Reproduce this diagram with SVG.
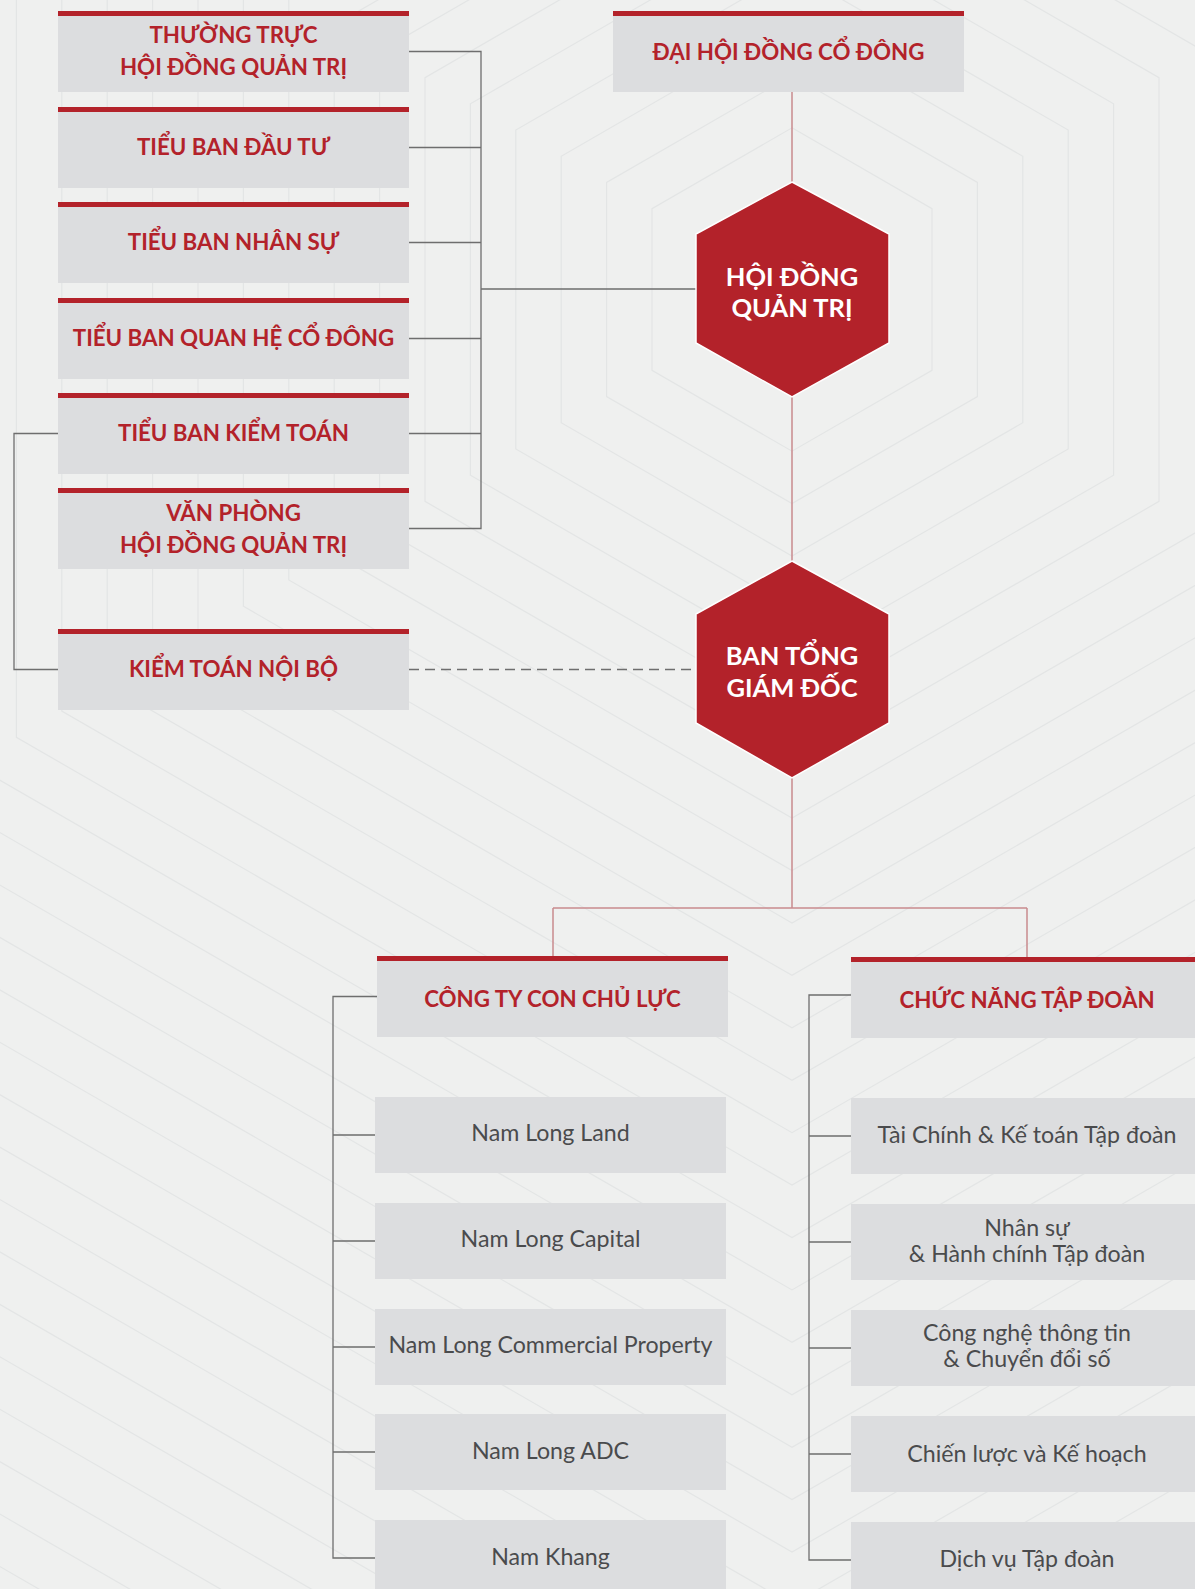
<svg xmlns="http://www.w3.org/2000/svg" xmlns:xlink="http://www.w3.org/1999/xlink" width="1195" height="1589" viewBox="0 0 1195 1589">
<style>
.bg{fill:#eff0ef}
.hx{fill:none;stroke:#e3e5e5;stroke-width:1.2;vector-effect:non-scaling-stroke}
.box{fill:#dcdddf}
.bar{fill:#b3222a}
.hex{fill:#b3222a;stroke:#ffffff;stroke-width:1.5}
.t{font-family:Lato,"Noto Sans","Liberation Sans",sans-serif;text-anchor:middle}
.tr{font-weight:700;font-size:22.3px;fill:#b3222a}
.tw{font-weight:700;font-size:25.5px;fill:#ffffff}
.tg{font-weight:400;font-size:23.2px;fill:#4a4b4d}
.cr{fill:none;stroke:#c98a8e;stroke-width:1.5}
.cg{fill:none;stroke:#6e6e6e;stroke-width:1.3}
.cd{fill:none;stroke:#6e6e6e;stroke-width:1.3;stroke-dasharray:10 6}
</style>
<defs>
<polygon id="uh" class="hx" points="0,-1.1547 1,-0.57735 1,0.57735 0,1.1547 -1,0.57735 -1,-0.57735"/>
</defs>
<rect class="bg" x="0" y="0" width="1195" height="1589"/>
<g id="background">
<use href="#uh" transform="translate(792 289.5) scale(140)"/>
<use href="#uh" transform="translate(792 289.5) scale(185.4)"/>
<use href="#uh" transform="translate(792 289.5) scale(230.8)"/>
<use href="#uh" transform="translate(792 289.5) scale(276.2)"/>
<use href="#uh" transform="translate(792 289.5) scale(321.6)"/>
<use href="#uh" transform="translate(792 289.5) scale(367)"/>
<use href="#uh" transform="translate(792 289.5) scale(412.4)"/>
<use href="#uh" transform="translate(792 289.5) scale(457.8)"/>
<use href="#uh" transform="translate(792 289.5) scale(503.2)"/>
<use href="#uh" transform="translate(792 289.5) scale(548.6)"/>
<use href="#uh" transform="translate(792 289.5) scale(594)"/>
<use href="#uh" transform="translate(792 289.5) scale(639.4)"/>
<use href="#uh" transform="translate(792 289.5) scale(684.8)"/>
<use href="#uh" transform="translate(792 289.5) scale(730.2)"/>
<use href="#uh" transform="translate(792 289.5) scale(775.6)"/>
<use href="#uh" transform="translate(792 289.5) scale(821)"/>
<use href="#uh" transform="translate(792 289.5) scale(866.4)"/>
<use href="#uh" transform="translate(792 289.5) scale(911.8)"/>
<use href="#uh" transform="translate(792 289.5) scale(957.2)"/>
<use href="#uh" transform="translate(792 289.5) scale(1002.6)"/>
<use href="#uh" transform="translate(792 289.5) scale(1048)"/>
<use href="#uh" transform="translate(792 289.5) scale(1093.4)"/>
<use href="#uh" transform="translate(792 289.5) scale(1138.8)"/>
<use href="#uh" transform="translate(792 289.5) scale(1184.2)"/>
<use href="#uh" transform="translate(792 289.5) scale(1229.6)"/>
<use href="#uh" transform="translate(792 289.5) scale(1275)"/>
<use href="#uh" transform="translate(792 289.5) scale(1320.4)"/>
<use href="#uh" transform="translate(792 289.5) scale(1365.8)"/>
<use href="#uh" transform="translate(792 289.5) scale(1411.2)"/>
<use href="#uh" transform="translate(792 289.5) scale(1456.6)"/>
<use href="#uh" transform="translate(792 289.5) scale(1502)"/>
<use href="#uh" transform="translate(792 289.5) scale(1547.4)"/>
</g>
<g id="connectors">
<path class="cr" d="M792 92V182M792 397V561M792 778V908M553 908H1027M553 908V956M1027 908V957"/>
<path class="cg" d="M409 51.5H481V528.5H409M409 147.5H481M409 242.5H481M409 338.5H481M409 433.5H481M481 289H696"/>
<path class="cg" d="M58 433.5H14V669.5H58"/>
<path class="cd" d="M409 669.5H696"/>
<path class="cg" d="M377 996.5H333V1558H375M333 1135H375M333 1241H375M333 1347H375M333 1452H375"/>
<path class="cg" d="M851 995H809V1560H851M809 1136H851M809 1242H851M809 1348H851M809 1454H851"/>
</g>
<g id="dai-hoi-dong-co-dong">
<rect class="box" x="613" y="11" width="351" height="81"/><rect class="bar" x="613" y="11" width="351" height="5"/>
<text class="t tr" x="788.5" y="60">ĐẠI HỘI ĐỒNG CỔ ĐÔNG</text>
</g>
<g id="thuong-truc-hdqt">
<rect class="box" x="58" y="11" width="351" height="81"/><rect class="bar" x="58" y="11" width="351" height="5"/>
<text class="t tr" x="233.5" y="43">THƯỜNG TRỰC</text>
<text class="t tr" x="233.5" y="75">HỘI ĐỒNG QUẢN TRỊ</text>
</g>
<g id="tieu-ban-dau-tu">
<rect class="box" x="58" y="107" width="351" height="81"/><rect class="bar" x="58" y="107" width="351" height="5"/>
<text class="t tr" x="233.5" y="155">TIỂU BAN ĐẦU TƯ</text>
</g>
<g id="tieu-ban-nhan-su">
<rect class="box" x="58" y="202" width="351" height="81"/><rect class="bar" x="58" y="202" width="351" height="5"/>
<text class="t tr" x="233.5" y="250">TIỂU BAN NHÂN SỰ</text>
</g>
<g id="tieu-ban-quan-he-co-dong">
<rect class="box" x="58" y="298" width="351" height="81"/><rect class="bar" x="58" y="298" width="351" height="5"/>
<text class="t tr" x="233.5" y="346">TIỂU BAN QUAN HỆ CỔ ĐÔNG</text>
</g>
<g id="tieu-ban-kiem-toan">
<rect class="box" x="58" y="393" width="351" height="81"/><rect class="bar" x="58" y="393" width="351" height="5"/>
<text class="t tr" x="233.5" y="441">TIỂU BAN KIỂM TOÁN</text>
</g>
<g id="van-phong-hdqt">
<rect class="box" x="58" y="488" width="351" height="81"/><rect class="bar" x="58" y="488" width="351" height="5"/>
<text class="t tr" x="233.5" y="521">VĂN PHÒNG</text>
<text class="t tr" x="233.5" y="553">HỘI ĐỒNG QUẢN TRỊ</text>
</g>
<g id="kiem-toan-noi-bo">
<rect class="box" x="58" y="629" width="351" height="81"/><rect class="bar" x="58" y="629" width="351" height="5"/>
<text class="t tr" x="233.5" y="677">KIỂM TOÁN NỘI BỘ</text>
</g>
<g id="hoi-dong-quan-tri">
<polygon class="hex" points="792,182 889,234 889,343 792,397 696,343 696,234"/>
<text class="t tw" x="792" y="286">HỘI ĐỒNG</text>
<text class="t tw" x="792" y="317">QUẢN TRỊ</text>
</g>
<g id="ban-tong-giam-doc">
<polygon class="hex" points="792,561 889,614 889,723 792,778 696,723 696,614"/>
<text class="t tw" x="792" y="665">BAN TỔNG</text>
<text class="t tw" x="792" y="697">GIÁM ĐỐC</text>
</g>
<g id="cong-ty-con-chu-luc">
<rect class="box" x="377" y="956" width="351" height="81"/><rect class="bar" x="377" y="956" width="351" height="5"/>
<text class="t tr" x="552.5" y="1007">CÔNG TY CON CHỦ LỰC</text>
</g>
<g id="chuc-nang-tap-doan">
<rect class="box" x="851" y="957" width="352" height="81"/><rect class="bar" x="851" y="957" width="352" height="5"/>
<text class="t tr" x="1027" y="1008">CHỨC NĂNG TẬP ĐOÀN</text>
</g>
<g id="nam-long-land">
<rect class="box" x="375" y="1097" width="351" height="76"/>
<text class="t tg" x="550.5" y="1141">Nam Long Land</text>
</g>
<g id="nam-long-capital">
<rect class="box" x="375" y="1203" width="351" height="76"/>
<text class="t tg" x="550.5" y="1247">Nam Long Capital</text>
</g>
<g id="nam-long-commercial-property">
<rect class="box" x="375" y="1309" width="351" height="76"/>
<text class="t tg" x="550.5" y="1353">Nam Long Commercial Property</text>
</g>
<g id="nam-long-adc">
<rect class="box" x="375" y="1414" width="351" height="76"/>
<text class="t tg" x="550.5" y="1459">Nam Long ADC</text>
</g>
<g id="nam-khang">
<rect class="box" x="375" y="1520" width="351" height="76"/>
<text class="t tg" x="550.5" y="1565">Nam Khang</text>
</g>
<g id="tai-chinh-ke-toan">
<rect class="box" x="851" y="1098" width="352" height="76"/>
<text class="t tg" x="1027" y="1143">Tài Chính &amp; Kế toán Tập đoàn</text>
</g>
<g id="nhan-su-hanh-chinh">
<rect class="box" x="851" y="1204" width="352" height="76"/>
<text class="t tg" x="1027" y="1236">Nhân sự</text>
<text class="t tg" x="1027" y="1262">&amp; Hành chính Tập đoàn</text>
</g>
<g id="cong-nghe-thong-tin">
<rect class="box" x="851" y="1310" width="352" height="76"/>
<text class="t tg" x="1027" y="1341">Công nghệ thông tin</text>
<text class="t tg" x="1027" y="1367">&amp; Chuyển đổi số</text>
</g>
<g id="chien-luoc-ke-hoach">
<rect class="box" x="851" y="1416" width="352" height="76"/>
<text class="t tg" x="1027" y="1462">Chiến lược và Kế hoạch</text>
</g>
<g id="dich-vu-tap-doan">
<rect class="box" x="851" y="1522" width="352" height="76"/>
<text class="t tg" x="1027" y="1567">Dịch vụ Tập đoàn</text>
</g>
</svg>
